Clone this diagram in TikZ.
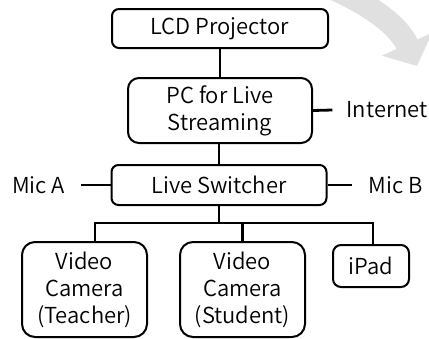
\documentclass[tikz,border=0pt]{standalone}
\usepackage{fontspec}
\setmainfont{Noto Sans CJK JP}[UprightFont={* DemiLight}]
\usetikzlibrary{arrows.meta}
\tikzset{
  unit/.style={draw, line width=2pt, align=center, inner sep=0pt,
    font=\fontsize{22}{27}\selectfont},
  link/.style={line width=2.8pt},
  tag/.style={inner sep=0pt, font=\fontsize{22}{27}\selectfont},
}
\begin{document}
\begin{tikzpicture}[x=1pt, y=-1pt]
\useasboundingbox (0,0) rectangle (429,338);
% faint sweep in the corner
\begin{scope}
\clip (0,0) rectangle (429,338);
\draw[line width=23pt, black!12, -{Triangle[length=24pt,width=54pt]}] (300,-25) .. controls (355,-5) and (396,20) .. (417,66);
\end{scope}

\node[unit, rounded corners=7pt, minimum width=216pt, minimum height=39pt] (lcd) at (220,28.5) {LCD Projector};
\node[unit, rounded corners=11pt, minimum width=184pt, minimum height=65pt] (pc) at (220,110.5) {PC for Live\\Streaming};
\node[unit, rounded corners=7pt, minimum width=215pt, minimum height=40pt] (sw) at (219,185) {Live Switcher};
\node[unit, rounded corners=13pt, minimum width=125pt, minimum height=95pt] (tcam) at (84.5,289.5) {Video\\Camera\\(Teacher)};
\node[unit, rounded corners=13pt, minimum width=125pt, minimum height=95pt] (scam) at (242.5,289.5) {Video\\Camera\\(Student)};
\node[unit, rounded corners=8pt, minimum width=76pt, minimum height=42pt] (ipad) at (371,266) {iPad};

\node[tag, anchor=east] (inet) at (428,110) {Internet};
\node[tag] (mica) at (38.5,185) {Mic A};
\node[tag] (micb) at (395.5,185) {Mic B};

\coordinate (bus) at (219,223);

\draw[link] (lcd.south) -- (pc.north);
\draw[link] (pc.south -| sw.north) -- (sw.north);
\draw[link] (pc.east) -- ([xshift=-14pt]inet.west);
\draw[link] ([xshift=16pt]mica.east) -- (sw.west);
\draw[link] (sw.east) -- ([xshift=-16pt]micb.west);
\draw[link] (sw.south) -- (bus);
\draw[link] ([xshift=10.5pt]tcam.north) |- (bus) -| ([xshift=2pt]ipad.north);
\draw[link] (scam.north) -- (scam.north |- bus);
\end{tikzpicture}
\end{document}
